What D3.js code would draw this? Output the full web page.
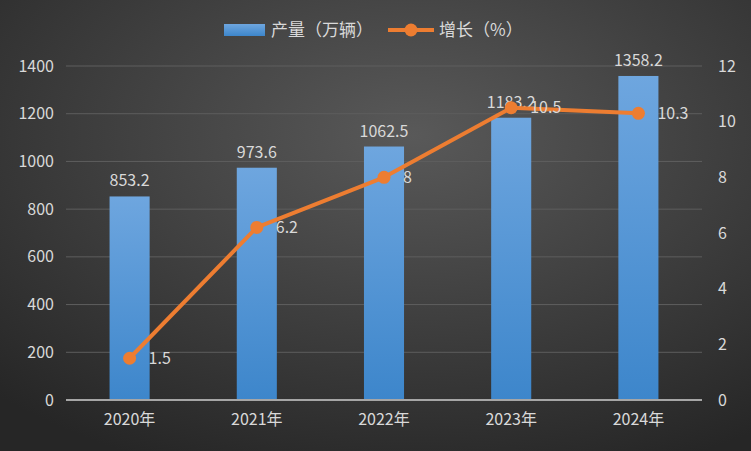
<!DOCTYPE html>
<html><head><meta charset="utf-8">
<script src="https://cdn.jsdelivr.net/npm/d3@7/dist/d3.min.js"></script>
<style>html,body{margin:0;padding:0;background:#333;}svg{display:block;}</style>
</head><body>
<script>
const categories = ["2020年","2021年","2022年","2023年","2024年"];
const production = [853.2, 973.6, 1062.5, 1183.2, 1358.2];
const growth = [1.5, 6.2, 8, 10.5, 10.3];
const leftTicks = [0,200,400,600,800,1000,1200,1400];
const rightTicks = [0,2,4,6,8,10,12];
const seriesNames = ["产量（万辆）","增长（%）"];

const W = 751, H = 451;
const m = {left: 66, right: 49, top: 66, bottom: 51};
const font = "'Noto Sans CJK SC','Microsoft YaHei',sans-serif";

const svg = d3.select("body").append("svg").attr("width", W).attr("height", H);
const defs = svg.append("defs");
const bg = defs.append("radialGradient").attr("id","bg").attr("cx","0.55").attr("cy","0.3").attr("r","0.8");
bg.append("stop").attr("offset","0").attr("stop-color","#595959");
bg.append("stop").attr("offset","1").attr("stop-color","#262626");
const bar = defs.append("linearGradient").attr("id","bar").attr("x1",0).attr("y1",0).attr("x2",0).attr("y2",1);
bar.append("stop").attr("offset","0").attr("stop-color","#6ea6df");
bar.append("stop").attr("offset","1").attr("stop-color","#3d86cb");
svg.append("rect").attr("width",W).attr("height",H).attr("fill","url(#bg)");

const x = d3.scaleBand().domain(categories).range([m.left, W - m.right]).paddingInner(0.685).paddingOuter(0.3425);
const y = d3.scaleLinear().domain([0,1400]).range([H - m.bottom, m.top]);
const y2 = d3.scaleLinear().domain([0,12]).range([H - m.bottom, m.top]);

// grid
svg.append("g").selectAll("line").data(leftTicks.slice(1)).join("line")
  .attr("x1", m.left).attr("x2", W - m.right)
  .attr("y1", d => y(d)).attr("y2", d => y(d))
  .attr("stroke", "#5e5e5e").attr("stroke-width", 1);

// left axis
const gl = svg.append("g").attr("transform", `translate(${m.left},0)`)
  .call(d3.axisLeft(y).tickValues(leftTicks).tickFormat(d3.format("d")).tickSize(0).tickPadding(12));
gl.select(".domain").remove();
gl.selectAll("text").attr("fill","#d9d9d9").style("font-size","16px").style("font-family",font);

// right axis
const gr = svg.append("g").attr("transform", `translate(${W - m.right},0)`)
  .call(d3.axisRight(y2).tickValues(rightTicks).tickFormat(d3.format("d")).tickSize(0).tickPadding(16));
gr.select(".domain").remove();
gr.selectAll("text").attr("fill","#d9d9d9").style("font-size","16px").style("font-family",font);

// bars
svg.append("g").selectAll("rect").data(production).join("rect")
  .attr("x", (d,i) => x(categories[i])).attr("width", x.bandwidth())
  .attr("y", d => y(d)).attr("height", d => y(0) - y(d))
  .attr("fill", "url(#bar)");

svg.append("g").selectAll("text").data(production).join("text")
  .attr("x", (d,i) => x(categories[i]) + x.bandwidth()/2).attr("y", d => y(d) - 10)
  .attr("text-anchor","middle").attr("fill","#d9d9d9")
  .style("font-size","16px").style("font-family",font).text(d => d);

// x axis
svg.append("line").attr("x1", m.left).attr("x2", W - m.right)
  .attr("y1", y(0)).attr("y2", y(0)).attr("stroke","#a6a6a6").attr("stroke-width",2);
const gx = svg.append("g").attr("transform", `translate(0,${H - m.bottom})`)
  .call(d3.axisBottom(x).tickSize(0).tickPadding(14));
gx.select(".domain").remove();
gx.selectAll("text").attr("fill","#d9d9d9").style("font-size","16px").style("font-family",font);

// line
const cx = (d,i) => x(categories[i]) + x.bandwidth()/2;
svg.append("path").datum(growth)
  .attr("d", d3.line().x(cx).y(d => y2(d)))
  .attr("fill","none").attr("stroke","#ed7d31").attr("stroke-width",4).attr("stroke-linejoin","round");
svg.append("g").selectAll("circle").data(growth).join("circle")
  .attr("cx", cx).attr("cy", d => y2(d)).attr("r", 6.5).attr("fill","#ed7d31");
svg.append("g").selectAll("text").data(growth).join("text")
  .attr("x", (d,i) => cx(d,i) + 19).attr("y", d => y2(d)).attr("dy","0.35em")
  .attr("fill","#d9d9d9").style("font-size","16px").style("font-family",font).text(d => d);

// legend
const lg = svg.append("g");
lg.append("rect").attr("x",224).attr("y",24).attr("width",41).attr("height",12).attr("fill","url(#bar)");
lg.append("text").attr("x",271).attr("y",30).attr("dy","0.35em").attr("fill","#d9d9d9")
  .style("font-size","17px").style("font-family",font).text(seriesNames[0]);
lg.append("line").attr("x1",388).attr("x2",434).attr("y1",30).attr("y2",30).attr("stroke","#ed7d31").attr("stroke-width",4);
lg.append("circle").attr("cx",411).attr("cy",30).attr("r",6.5).attr("fill","#ed7d31");
lg.append("text").attr("x",439).attr("y",30).attr("dy","0.35em").attr("fill","#d9d9d9")
  .style("font-size","17px").style("font-family",font).text(seriesNames[1]);
</script>
</body></html>
